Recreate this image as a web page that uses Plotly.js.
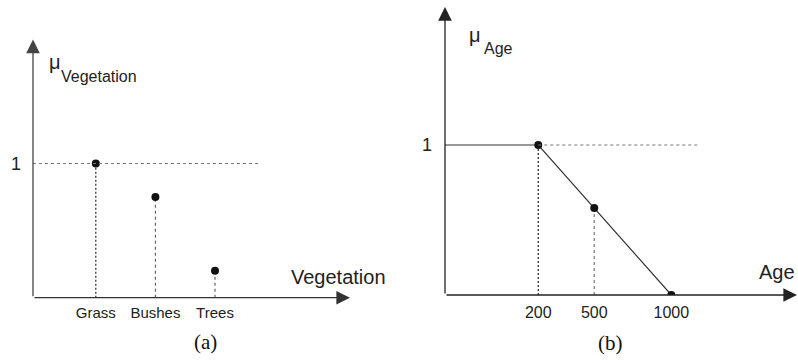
<!DOCTYPE html>
<html>
<head>
<meta charset="utf-8">
<script src="https://cdn.plot.ly/plotly-3.0.1.min.js"></script>
<style>html,body{margin:0;padding:0;background:#fff;}#chart{width:798px;height:363px;}</style>
</head>
<body>
<div id="chart"></div>
<script>
// ---- data ----
const vegCategories = ['Grass', 'Bushes', 'Trees'];
const vegMembership = [1, 0.75, 0.2];

const ageTickLabels = ['200', '500', '1000'];
const agePositions = [2.65, 4.24, 6.43];   // sketch positions along the (non-linear) Age axis
const ageMembership = [1, 0.58, 0];

const W = 798, H = 363;
const px = v => v / W;
const py = v => 1 - v / H;

const FONT = 'Liberation Sans, Arial, sans-serif';
const SERIF = 'Liberation Serif, Times New Roman, serif';

const traces = [];

// (a) vertical guide lines from axis to each point
vegCategories.forEach((c, i) => {
  traces.push({
    x: [i, i], y: [0, vegMembership[i]], xaxis: 'x', yaxis: 'y',
    mode: 'lines', hoverinfo: 'skip', showlegend: false,
    line: {color: i === 0 ? '#222' : '#666', width: 1.2, dash: i === 0 ? '2px,2px' : 'dot'}
  });
});
traces.push({
  x: vegCategories.map((c, i) => i), y: vegMembership, xaxis: 'x', yaxis: 'y',
  mode: 'markers', showlegend: false,
  marker: {color: '#111', size: 8}
});

// (b) vertical guide lines
agePositions.slice(0, 2).forEach((p, i) => {
  traces.push({
    x: [p, p], y: [0, ageMembership[i]], xaxis: 'x2', yaxis: 'y2',
    mode: 'lines', hoverinfo: 'skip', showlegend: false,
    line: {color: i === 0 ? '#222' : '#777', width: 1.2, dash: i === 0 ? '2px,2px' : 'dot'}
  });
});
// (b) membership function
traces.push({
  x: [0, agePositions[0], agePositions[2]], y: [1, ageMembership[0], ageMembership[2]],
  xaxis: 'x2', yaxis: 'y2', mode: 'lines', showlegend: false,
  line: {color: '#333', width: 1.2}
});
traces.push({
  x: agePositions, y: ageMembership, xaxis: 'x2', yaxis: 'y2',
  mode: 'markers', showlegend: false,
  marker: {color: '#111', size: 8}
});

const axBase = {
  showgrid: false, zeroline: false, showline: false, ticks: '',
  tickfont: {family: FONT, size: 15, color: '#222'}, fixedrange: true
};

function arrow(x, y, ax, ay, color) {
  return {
    xref: 'paper', yref: 'paper', x: px(x), y: py(y), ax: ax, ay: ay,
    axref: 'pixel', ayref: 'pixel', text: '', showarrow: true,
    arrowhead: 2, arrowsize: 2.1, arrowwidth: 1.3, arrowcolor: color, standoff: 0
  };
}
function label(text, x, y, size, family, color, xanchor) {
  return {
    xref: 'paper', yref: 'paper', x: px(x), y: py(y), text: text, showarrow: false,
    xanchor: xanchor || 'center', yanchor: 'middle',
    font: {family: family, size: size, color: color || '#222'}
  };
}

const layout = {
  width: W, height: H,
  margin: {l: 0, r: 0, t: 0, b: 0},
  paper_bgcolor: '#fff', plot_bgcolor: '#fff',
  showlegend: false,
  xaxis: Object.assign({}, axBase, {
    domain: [px(33), px(350)], range: [-1.054, 4.265],
    tickvals: [0, 1, 2], ticktext: vegCategories, ticklabelstandoff: 4
  }),
  yaxis: Object.assign({}, axBase, {
    domain: [py(297.7), py(39.5)], range: [0, 1.924],
    tickvals: [1], ticktext: ['1'], ticklabelstandoff: 11,
    tickfont: {family: FONT, size: 18, color: '#222'}
  }),
  xaxis2: Object.assign({}, axBase, {
    anchor: 'y2', domain: [px(445), px(797)], range: [0, 10],
    tickvals: agePositions, ticktext: ageTickLabels, ticklabelstandoff: 6,
    tickfont: {family: FONT, size: 16, color: '#222'}
  }),
  yaxis2: Object.assign({}, axBase, {
    anchor: 'x2', domain: [py(295), py(7)], range: [0, 1.92],
    tickvals: [1], ticktext: ['1'], ticklabelstandoff: 12,
    tickfont: {family: FONT, size: 18, color: '#222'}
  }),
  shapes: [
    {type: 'line', xref: 'x', yref: 'y', x0: -1.054, x1: 2.755, y0: 1, y1: 1,
     line: {color: '#777', width: 1.2, dash: 'dot'}},
    {type: 'line', xref: 'x2', yref: 'y2', x0: agePositions[0], x1: 7.19, y0: 1, y1: 1,
     line: {color: '#777', width: 1.2, dash: 'dot'}}
  ],
  annotations: [
    // axes with arrowheads
    arrow(350, 297.7, -317, 0, '#333'),
    arrow(33, 39.5, 0, 258.2, '#444'),
    arrow(797, 295, -352, 0, '#222'),
    arrow(445, 7, 0, 288, '#222'),
    // axis names
    label('Vegetation', 338.5, 277, 20, FONT, '#222'),
    label('Age', 777, 272, 20, FONT, '#222'),
    // membership symbols
    label('\u03bc', 55, 62, 20, FONT, '#222'),
    label('Vegetation', 59, 76, 16, FONT, '#222', 'left'),
    label('\u03bc', 475, 35, 20, FONT, '#222'),
    label('Age', 482, 48, 16, FONT, '#222', 'left'),
    // panel captions
    label('(a)', 205, 342, 21, SERIF, '#111'),
    label('(b)', 610, 343, 21, SERIF, '#111')
  ]
};

Plotly.newPlot('chart', traces, layout, {staticPlot: true, displayModeBar: false});
</script>
</body>
</html>
